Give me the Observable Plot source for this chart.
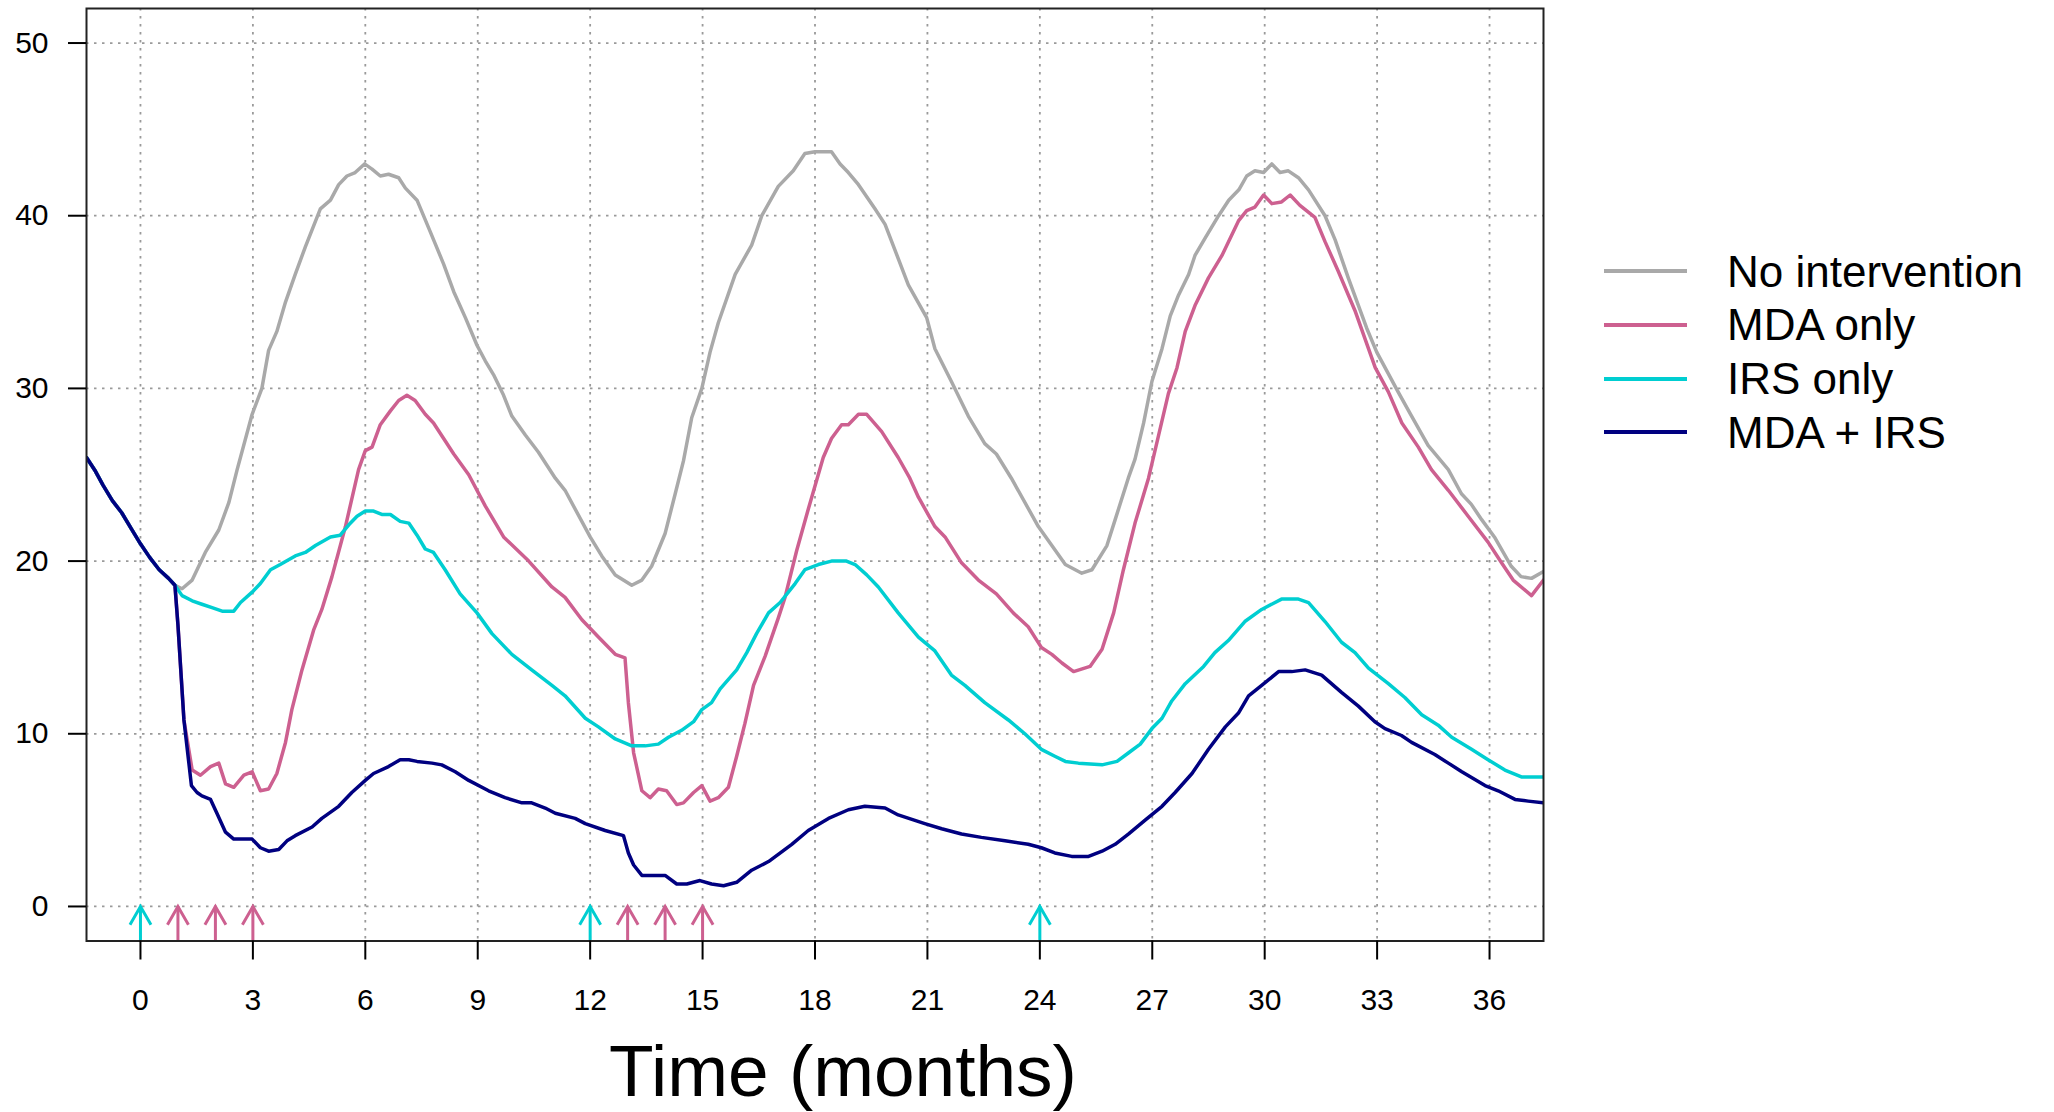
<!DOCTYPE html>
<html>
<head>
<meta charset="utf-8">
<script src="https://cdn.jsdelivr.net/npm/d3@7"></script>
<script src="https://cdn.jsdelivr.net/npm/@observablehq/plot@0.6"></script>
<style>
  html, body { margin: 0; padding: 0; background: white; }
  #wrap { position: relative; width: 2054px; height: 1112px; overflow: hidden; }
  #legend { position: absolute; left: 1604px; top: 244.5px; font-family: "Liberation Sans", Arial, sans-serif; font-size: 44px; color: black; }
  .row { display: flex; align-items: center; height: 53.7px; line-height: 53.7px; white-space: nowrap; }
  .swatch { display: inline-block; width: 83px; height: 4px; margin-right: 40px; }
</style>
</head>
<body>
<div id="wrap"><div id="legend"></div></div>
<script>
// ---- data (time in months) ----
const seriesNames = ["No intervention", "MDA only", "IRS only", "MDA + IRS"];
const seriesColors = ["#a9a9a9", "#cd6090", "#00ced1", "#000080"];
const xTicks = [0, 3, 6, 9, 12, 15, 18, 21, 24, 27, 30, 33, 36];
const yTicks = [0, 10, 20, 30, 40, 50];
const irsTimes = [0, 12, 24];
const mdaTimes = [1, 2, 3, 13, 14, 15];

// shared trajectory before the interventions begin
const commonStart = [[-1.44, 26.0], [-1.2, 25.2], [-1.0, 24.4], [-0.75, 23.5], [-0.5, 22.8], [-0.25, 21.9], [0, 21.0], [0.25, 20.2], [0.5, 19.5], [0.75, 19.0], [0.92, 18.6]];

const noIntervention = [[1.11, 18.4], [1.38, 18.9], [1.73, 20.5], [2.09, 21.8], [2.36, 23.4], [2.58, 25.3], [2.98, 28.5], [3.24, 30.0], [3.42, 32.2], [3.64, 33.3], [3.87, 35.0], [4.13, 36.6], [4.4, 38.2], [4.8, 40.4], [5.07, 40.9], [5.29, 41.8], [5.51, 42.3], [5.73, 42.5], [5.98, 43.0], [6.18, 42.7], [6.4, 42.3], [6.62, 42.4], [6.89, 42.2], [7.07, 41.6], [7.38, 40.9], [7.69, 39.3], [8.09, 37.2], [8.36, 35.6], [8.67, 34.1], [8.98, 32.5], [9.2, 31.6], [9.42, 30.8], [9.69, 29.6], [9.91, 28.4], [10.27, 27.3], [10.62, 26.3], [11.07, 24.8], [11.33, 24.1], [12.0, 21.4], [12.31, 20.3], [12.67, 19.2], [13.11, 18.6], [13.38, 18.9], [13.64, 19.7], [14.0, 21.6], [14.27, 23.9], [14.49, 25.8], [14.71, 28.3], [14.98, 30.0], [15.2, 32.1], [15.42, 33.8], [15.87, 36.6], [16.31, 38.3], [16.58, 40.0], [17.02, 41.7], [17.42, 42.6], [17.73, 43.6], [18.0, 43.7], [18.44, 43.7], [18.67, 43.0], [18.89, 42.5], [19.16, 41.8], [19.6, 40.4], [19.87, 39.5], [20.49, 36.0], [20.98, 34.1], [21.2, 32.3], [21.64, 30.4], [22.09, 28.4], [22.53, 26.8], [22.84, 26.2], [23.24, 24.8], [23.96, 22.0], [24.32, 20.9], [24.68, 19.8], [25.12, 19.3], [25.39, 19.5], [25.79, 20.9], [26.01, 22.4], [26.36, 24.8], [26.54, 25.9], [26.77, 28.0], [26.99, 30.4], [27.26, 32.3], [27.48, 34.2], [27.7, 35.4], [27.97, 36.6], [28.14, 37.7], [28.41, 38.7], [28.77, 40.0], [29.04, 40.9], [29.31, 41.5], [29.52, 42.3], [29.74, 42.6], [29.97, 42.5], [30.19, 43.0], [30.41, 42.5], [30.63, 42.6], [30.9, 42.2], [31.17, 41.5], [31.61, 40.0], [31.88, 38.6], [32.23, 36.4], [32.72, 33.5], [32.99, 32.1], [33.56, 29.8], [33.92, 28.4], [34.36, 26.7], [34.9, 25.3], [35.25, 23.9], [35.51, 23.3], [35.79, 22.4], [36.13, 21.4], [36.58, 19.7], [36.84, 19.1], [37.12, 19.0], [37.44, 19.4]];

const mdaOnly = [[1.0, 16.3], [1.16, 10.8], [1.38, 7.9], [1.6, 7.6], [1.87, 8.1], [2.09, 8.3], [2.27, 7.1], [2.49, 6.9], [2.76, 7.6], [2.98, 7.8], [3.2, 6.7], [3.42, 6.8], [3.64, 7.7], [3.87, 9.5], [4.04, 11.4], [4.31, 13.7], [4.62, 16.0], [4.84, 17.2], [5.11, 19.1], [5.47, 22.0], [5.82, 25.3], [6.0, 26.4], [6.18, 26.6], [6.4, 27.9], [6.67, 28.7], [6.89, 29.3], [7.11, 29.6], [7.33, 29.3], [7.6, 28.5], [7.82, 28.0], [8.09, 27.1], [8.36, 26.2], [8.76, 25.0], [9.2, 23.2], [9.69, 21.4], [10.36, 20.0], [10.98, 18.5], [11.33, 17.9], [11.78, 16.6], [12.22, 15.6], [12.67, 14.6], [12.93, 14.4], [13.02, 11.8], [13.16, 8.9], [13.38, 6.7], [13.6, 6.3], [13.82, 6.8], [14.04, 6.7], [14.31, 5.9], [14.49, 6.0], [14.76, 6.6], [14.98, 7.0], [15.2, 6.1], [15.42, 6.3], [15.69, 6.9], [15.91, 8.7], [16.13, 10.6], [16.36, 12.8], [16.67, 14.5], [17.02, 16.7], [17.2, 17.9], [17.51, 20.6], [17.82, 23.0], [18.22, 26.0], [18.44, 27.1], [18.71, 27.9], [18.89, 27.9], [19.16, 28.5], [19.38, 28.5], [19.78, 27.5], [20.22, 26.0], [20.53, 24.8], [20.76, 23.7], [21.2, 22.0], [21.47, 21.4], [21.91, 19.9], [22.36, 18.9], [22.84, 18.1], [23.29, 17.0], [23.69, 16.2], [24.04, 15.0], [24.32, 14.6], [24.59, 14.1], [24.9, 13.6], [25.34, 13.9], [25.66, 14.9], [25.97, 17.0], [26.23, 19.5], [26.54, 22.2], [26.9, 24.8], [27.17, 27.3], [27.43, 29.7], [27.66, 31.2], [27.88, 33.3], [28.14, 34.8], [28.5, 36.4], [28.86, 37.7], [29.3, 39.7], [29.52, 40.3], [29.74, 40.5], [29.97, 41.2], [30.19, 40.7], [30.45, 40.8], [30.68, 41.2], [30.94, 40.6], [31.34, 39.9], [31.61, 38.5], [31.96, 36.8], [32.41, 34.5], [32.95, 31.2], [33.3, 29.8], [33.66, 28.0], [34.1, 26.6], [34.45, 25.3], [34.9, 24.1], [35.43, 22.6], [35.96, 21.1], [36.32, 19.9], [36.63, 18.9], [37.12, 18.0], [37.44, 18.9]];

const irsOnly = [[1.11, 18.0], [1.38, 17.7], [1.64, 17.5], [1.91, 17.3], [2.18, 17.1], [2.49, 17.1], [2.67, 17.6], [2.98, 18.2], [3.2, 18.7], [3.47, 19.5], [3.73, 19.8], [4.13, 20.3], [4.4, 20.5], [4.67, 20.9], [5.07, 21.4], [5.33, 21.5], [5.56, 22.1], [5.78, 22.6], [6.0, 22.9], [6.22, 22.9], [6.44, 22.7], [6.67, 22.7], [6.93, 22.3], [7.16, 22.2], [7.38, 21.5], [7.6, 20.7], [7.82, 20.5], [8.13, 19.5], [8.53, 18.1], [8.98, 17.0], [9.38, 15.8], [9.91, 14.6], [10.44, 13.7], [10.98, 12.8], [11.33, 12.2], [11.87, 10.9], [12.22, 10.4], [12.67, 9.7], [13.11, 9.3], [13.47, 9.3], [13.82, 9.4], [14.09, 9.8], [14.44, 10.2], [14.76, 10.7], [14.98, 11.4], [15.24, 11.8], [15.47, 12.6], [15.91, 13.7], [16.18, 14.7], [16.44, 15.8], [16.76, 17.0], [17.07, 17.6], [17.47, 18.7], [17.73, 19.5], [18.09, 19.8], [18.44, 20.0], [18.84, 20.0], [19.07, 19.8], [19.38, 19.2], [19.69, 18.5], [20.22, 17.0], [20.76, 15.6], [21.2, 14.8], [21.64, 13.4], [22.0, 12.8], [22.53, 11.8], [23.16, 10.8], [23.6, 10.0], [24.04, 9.1], [24.4, 8.7], [24.68, 8.4], [25.03, 8.3], [25.66, 8.2], [26.06, 8.4], [26.37, 8.9], [26.68, 9.4], [26.99, 10.3], [27.26, 10.9], [27.52, 11.9], [27.88, 12.9], [28.37, 13.9], [28.67, 14.7], [29.03, 15.4], [29.47, 16.5], [29.92, 17.2], [30.45, 17.8], [30.9, 17.8], [31.17, 17.6], [31.61, 16.5], [32.05, 15.3], [32.41, 14.7], [32.77, 13.8], [33.3, 12.9], [33.74, 12.1], [34.19, 11.1], [34.63, 10.5], [34.99, 9.8], [35.52, 9.1], [35.96, 8.5], [36.41, 7.9], [36.85, 7.5], [37.44, 7.5]];

const mdaPlusIrs = [[1.0, 16.3], [1.16, 10.8], [1.36, 7.0], [1.51, 6.6], [1.64, 6.4], [1.87, 6.2], [2.04, 5.4], [2.27, 4.3], [2.49, 3.9], [2.76, 3.9], [2.98, 3.9], [3.2, 3.4], [3.42, 3.2], [3.69, 3.3], [3.91, 3.8], [4.13, 4.1], [4.58, 4.6], [4.84, 5.1], [5.29, 5.8], [5.64, 6.6], [6.0, 7.3], [6.22, 7.7], [6.62, 8.1], [6.93, 8.5], [7.16, 8.5], [7.38, 8.4], [7.78, 8.3], [8.04, 8.2], [8.4, 7.8], [8.76, 7.3], [9.29, 6.7], [9.73, 6.3], [10.18, 6.0], [10.44, 6.0], [10.8, 5.7], [11.07, 5.4], [11.6, 5.1], [11.87, 4.8], [12.4, 4.4], [12.89, 4.1], [13.02, 3.1], [13.16, 2.4], [13.38, 1.8], [14.0, 1.8], [14.31, 1.3], [14.58, 1.3], [14.93, 1.5], [15.24, 1.3], [15.56, 1.2], [15.91, 1.4], [16.31, 2.1], [16.76, 2.6], [17.38, 3.6], [17.82, 4.4], [18.36, 5.1], [18.89, 5.6], [19.33, 5.8], [19.87, 5.7], [20.22, 5.3], [20.93, 4.8], [21.38, 4.5], [21.91, 4.2], [22.44, 4.0], [23.07, 3.8], [23.69, 3.6], [24.04, 3.4], [24.4, 3.1], [24.85, 2.9], [25.3, 2.9], [25.66, 3.2], [26.01, 3.6], [26.37, 4.2], [26.81, 5.0], [27.26, 5.8], [27.61, 6.6], [28.06, 7.7], [28.5, 9.1], [28.95, 10.4], [29.3, 11.2], [29.57, 12.2], [29.92, 12.8], [30.37, 13.6], [30.72, 13.6], [31.08, 13.7], [31.52, 13.4], [32.05, 12.4], [32.5, 11.6], [32.94, 10.7], [33.21, 10.3], [33.65, 9.9], [33.92, 9.5], [34.54, 8.8], [34.9, 8.3], [35.26, 7.8], [35.88, 7.0], [36.23, 6.7], [36.68, 6.2], [37.03, 6.1], [37.44, 6.0]];

const arrowBase = -2;   // bottom of the y range
const arrowTip = 0;

// ---- build ----
const seriesData = [noIntervention, mdaOnly, irsOnly, mdaPlusIrs];
const rows = [];
seriesData.forEach((s, i) => {
  commonStart.concat(s).forEach(([t, v]) => rows.push({t, v, series: seriesNames[i]}));
});

// open arrowhead (chevron) symbol with its tip at the anchor point
const chevron = {
  draw(context, size) {
    const s = Math.sqrt(size / Math.PI);
    context.moveTo(-s, 1.73 * s);
    context.lineTo(0, 0);
    context.lineTo(s, 1.73 * s);
  }
};

const gridStyle = {stroke: "#9a9a9a", strokeOpacity: 1, strokeWidth: 1.8, strokeDasharray: "2.5,5.5"};

function interventionMarks(times, color) {
  return [
    Plot.ruleX(times, {x: d => d, y1: arrowBase, y2: arrowTip, stroke: color, strokeWidth: 3}),
    Plot.dot(times, {x: d => d, y: arrowTip, symbol: chevron, r: 10.5, fill: "none", stroke: color, strokeWidth: 3, strokeLinejoin: "miter"})
  ];
}

const chart = Plot.plot({
  width: 2054,
  height: 1112,
  marginLeft: 86,
  marginRight: 511,
  marginTop: 8,
  marginBottom: 171.5,
  style: {fontFamily: "'Liberation Sans', Arial, sans-serif", fontSize: "30px", color: "black", background: "white"},
  x: {domain: [-1.44, 37.44]},
  y: {domain: [-2, 52]},
  marks: [
    Plot.gridX(xTicks, gridStyle),
    Plot.gridY(yTicks, gridStyle),
    ...seriesNames.map((name, i) =>
      Plot.line(rows.filter(d => d.series === name), {x: "t", y: "v", stroke: seriesColors[i], strokeWidth: 3.5, clip: true, strokeLinejoin: "round"})
    ),
    ...interventionMarks(irsTimes, seriesColors[2]),
    ...interventionMarks(mdaTimes, seriesColors[1]),
    Plot.frame({stroke: "#222", strokeWidth: 2}),
    Plot.axisX(xTicks, {tickSize: 19, tickPadding: 29, label: null, strokeWidth: 2, fontSize: 30}),
    Plot.axisY(yTicks, {tickSize: 18, tickPadding: 20, label: null, strokeWidth: 2, fontSize: 30}),
    Plot.text(["Time (months)"], {text: d => d, frameAnchor: "bottom", lineAnchor: "bottom", dy: 155, dx: 28, fontSize: 73})
  ]
});
document.getElementById("wrap").prepend(chart);

// ---- legend ----
const legend = document.getElementById("legend");
seriesNames.forEach((name, i) => {
  const row = document.createElement("div");
  row.className = "row";
  const sw = document.createElement("span");
  sw.className = "swatch";
  sw.style.background = seriesColors[i];
  const label = document.createElement("span");
  label.textContent = name;
  row.appendChild(sw);
  row.appendChild(label);
  legend.appendChild(row);
});
</script>
</body>
</html>
